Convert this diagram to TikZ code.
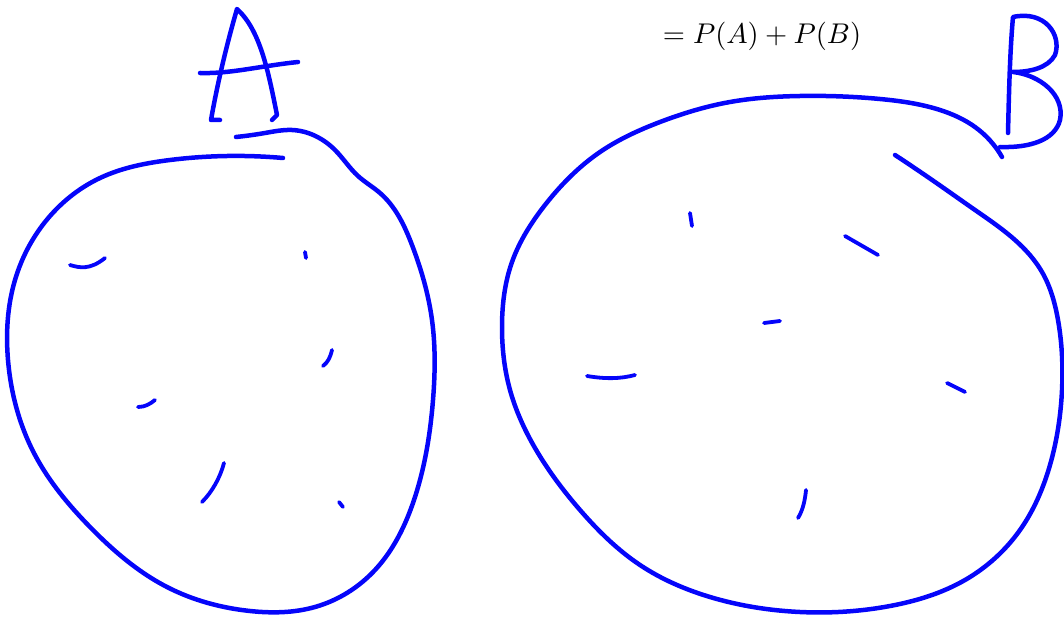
\documentclass[tikz,border=0pt]{standalone}
\usepackage{graphicx}
\usetikzlibrary{hobby}
\begin{document}
\begin{tikzpicture}[x=1pt,y=-1pt,
  ink/.style={draw={rgb,255:red,5;green,5;blue,250},line width=4.5pt,line cap=round,line join=round},
  tick/.style={ink,line width=3.8pt}]
\useasboundingbox (0,0) rectangle (1064,617);
% circle A
\draw[ink,use Hobby shortcut] (236,137) .. (265,133) .. (292,130) .. (335,150) .. (358,176) .. (380,193) .. (412,245) .. (432,320) .. (433,400) .. (414,500) .. (375,570) .. (315,607) .. (250,611) .. (167,587) .. (90,527) .. (35,455) .. (8,360) .. (15,280) .. (45,222) .. (100,178) .. (170,160) .. (283,158);
% circle B
\draw[ink,use Hobby shortcut] (1002,157) .. (975,127) .. (940,110) .. (880,99) .. (800,96) .. (730,102) .. (660,122) .. (600,152) .. (545,205) .. (512,262) .. (502,325) .. (510,390) .. (535,448) .. (580,510) .. (640,565) .. (710,597) .. (800,612) .. (890,606) .. (965,580) .. (1020,530) .. (1050,465) .. (1062,390) .. (1058,320) .. (1042,272) .. (1015,240) .. (975,210) .. (935,182) .. (895,155);
% letter A
\draw[ink] (220,120) -- (211,120) .. controls (218,80) and (228,40) .. (237,9) .. controls (260,30) and (268,70) .. (277,115) -- (272,120);
\draw[ink] (200,73) .. controls (230,74) and (260,66) .. (298,62);
% letter B
\draw[ink] (1008,133) .. controls (1009,90) and (1010,50) .. (1013,17) .. controls (1045,10) and (1062,35) .. (1055,55) .. controls (1048,68) and (1030,72) .. (1013,72) .. controls (1040,75) and (1065,95) .. (1060,120) .. controls (1055,140) and (1030,148) .. (1000,147);
% marks in A
\draw[tick] (70,265) .. controls (80,268) and (90,270) .. (105,258);
\draw[tick] (305,252) -- (306,258);
\draw[tick] (332,350) .. controls (330,358) and (328,362) .. (323,366);
\draw[tick] (138,407) .. controls (145,407) and (150,404) .. (155,400);
\draw[tick] (224,463) .. controls (220,478) and (212,492) .. (202,502);
\draw[tick] (339,502) -- (343,507);
% marks in B
\draw[tick] (690,213) -- (692,226);
\draw[tick] (845,236) -- (878,255);
\draw[tick] (764,323) -- (780,321);
\draw[tick] (587,376) .. controls (605,379) and (620,379) .. (635,375);
\draw[tick] (947,383) -- (965,392);
\draw[tick] (806,490) .. controls (805,500) and (803,510) .. (798,518);
% formula
\node[inner sep=0pt] (f) at (762,36) {\scalebox{2.85}{$=P(A)+P(B)$}};
\end{tikzpicture}
\end{document}
